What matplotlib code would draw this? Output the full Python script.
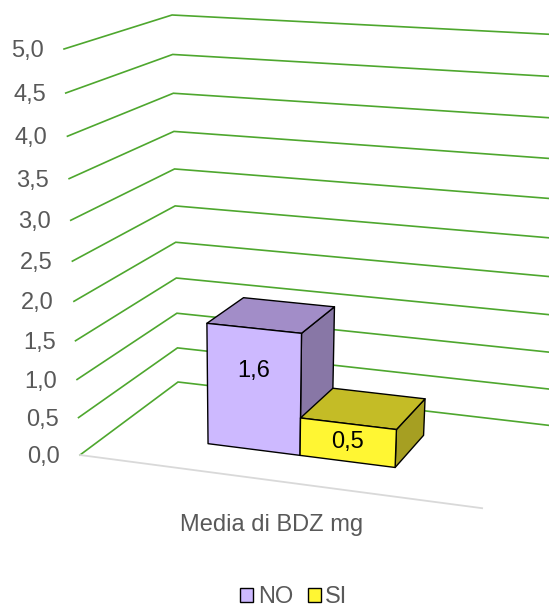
import numpy as np
import matplotlib
matplotlib.use("Agg")
from matplotlib import pyplot as plt
from matplotlib.patches import Polygon, Patch

plt.rcParams['font.family'] = ['Liberation Sans', 'DejaVu Sans']

# data
category = "Media di BDZ mg"
series = ["NO", "SI"]
values = [1.6, 0.5]
value_labels = ["1,6", "0,5"]
ticks = [0.0, 0.5, 1.0, 1.5, 2.0, 2.5, 3.0, 3.5, 4.0, 4.5, 5.0]
tick_labels = ["0,0", "0,5", "1,0", "1,5", "2,0", "2,5", "3,0", "3,5", "4,0", "4,5", "5,0"]
ymax = 5.0

# colours: front, top, side
front_cols = ["#CDB9FF", "#FFF633"]
top_cols = ["#A28DC8", "#C4BC26"]
side_cols = ["#8877A6", "#A69F22"]
label_frac = [0.65, 0.52]   # where the value label sits on the front face

W, H = 549, 607

# perspective camera (pixel space): origin = floor front-left corner,
# plus vanishing points of the three box directions
O = np.array([80.0, 455.0, 1.0])
VX = np.array([-5400.0, -270.0, 1.0])
VY = np.array([249.0, 4750.0, 1.0])
VZ = np.array([1036.0, -257.0, 1.0])
# image of the far end of each box edge from the origin
end_x = np.array([482.0, 509.0])   # (1, 0, 0)
end_y = np.array([64.0, 49.0])     # (0, ymax, 0)
end_z = np.array([178.0, 382.0])   # (0, 0, 1)


def edge_scale(v, c):
    d = v[:2] - c
    return np.dot(c - O[:2], d) / np.dot(d, d)


sx = edge_scale(VX, end_x)
sy = edge_scale(VY, end_y) / ymax
sz = edge_scale(VZ, end_z)
P = np.column_stack([sx * VX, sy * VY, sz * VZ, O])


def proj(x, y, z):
    p = P @ np.array([x, y, z, 1.0])
    return p[0] / p[2], p[1] / p[2]


fig = plt.figure(figsize=(W / 100, H / 100), dpi=100)
ax = fig.add_axes([0, 0, 1, 1])
ax.set_xlim(0, W)
ax.set_ylim(H, 0)
ax.axis('off')

grid_col = "#4EA72E"
txt_col = "#595959"
fs = 17

# gridlines on left wall and back wall
for t in ticks:
    pts = [proj(0, t, 0), proj(0, t, 1), proj(1.08, t, 1)]
    ax.plot([p[0] for p in pts], [p[1] for p in pts], color=grid_col,
            lw=1.2, solid_joinstyle='miter', zorder=1)

# floor front edge
a, b = proj(0, 0, 0), proj(1, 0, 0)
ax.plot([a[0], b[0]], [a[1], b[1]], color="#D9D9D9", lw=1.3, zorder=1)

# value axis labels
for t, lab in zip(ticks, tick_labels):
    px, py = proj(0, t, 0)
    ax.text(px - 20, py + 8, lab, ha='right', va='baseline', fontsize=fs, color=txt_col)

# bars
n = len(values)
bar_w = 0.24
x0 = 0.5 - n * bar_w / 2
z0, z1 = 0.30, 0.70
for i, v in enumerate(values):
    xa, xb = x0 + i * bar_w, x0 + (i + 1) * bar_w
    front = [proj(xa, 0, z0), proj(xb, 0, z0), proj(xb, v, z0), proj(xa, v, z0)]
    top = [proj(xa, v, z0), proj(xb, v, z0), proj(xb, v, z1), proj(xa, v, z1)]
    side = [proj(xb, 0, z0), proj(xb, 0, z1), proj(xb, v, z1), proj(xb, v, z0)]
    for poly, col in [(side, side_cols[i]), (top, top_cols[i]), (front, front_cols[i])]:
        ax.add_patch(Polygon(poly, closed=True, facecolor=col, edgecolor='black',
                             lw=1.0, joinstyle='round', zorder=2 + i))
    lx, ly = proj((xa + xb) / 2, v * label_frac[i], z0)
    ax.text(lx, ly, value_labels[i], ha='center', va='center', fontsize=fs,
            color='black', zorder=5)

# category label
cx, cy = proj(0.5, 0, 0)
ax.text(cx - 2, cy + 50, category, ha='center', va='baseline', fontsize=fs, color=txt_col)

handles = [Patch(facecolor=c, edgecolor='black', lw=1.0) for c in front_cols]
leg = fig.legend(handles, series, loc='center', bbox_to_anchor=(294 / W, 1 - 597 / H),
                 ncol=2, frameon=False, fontsize=fs, handlelength=0.55, handleheight=0.55,
                 handletextpad=0.2, columnspacing=0.6, borderpad=0)
for t in leg.get_texts():
    t.set_color(txt_col)

fig.savefig("out.png", dpi=100)
